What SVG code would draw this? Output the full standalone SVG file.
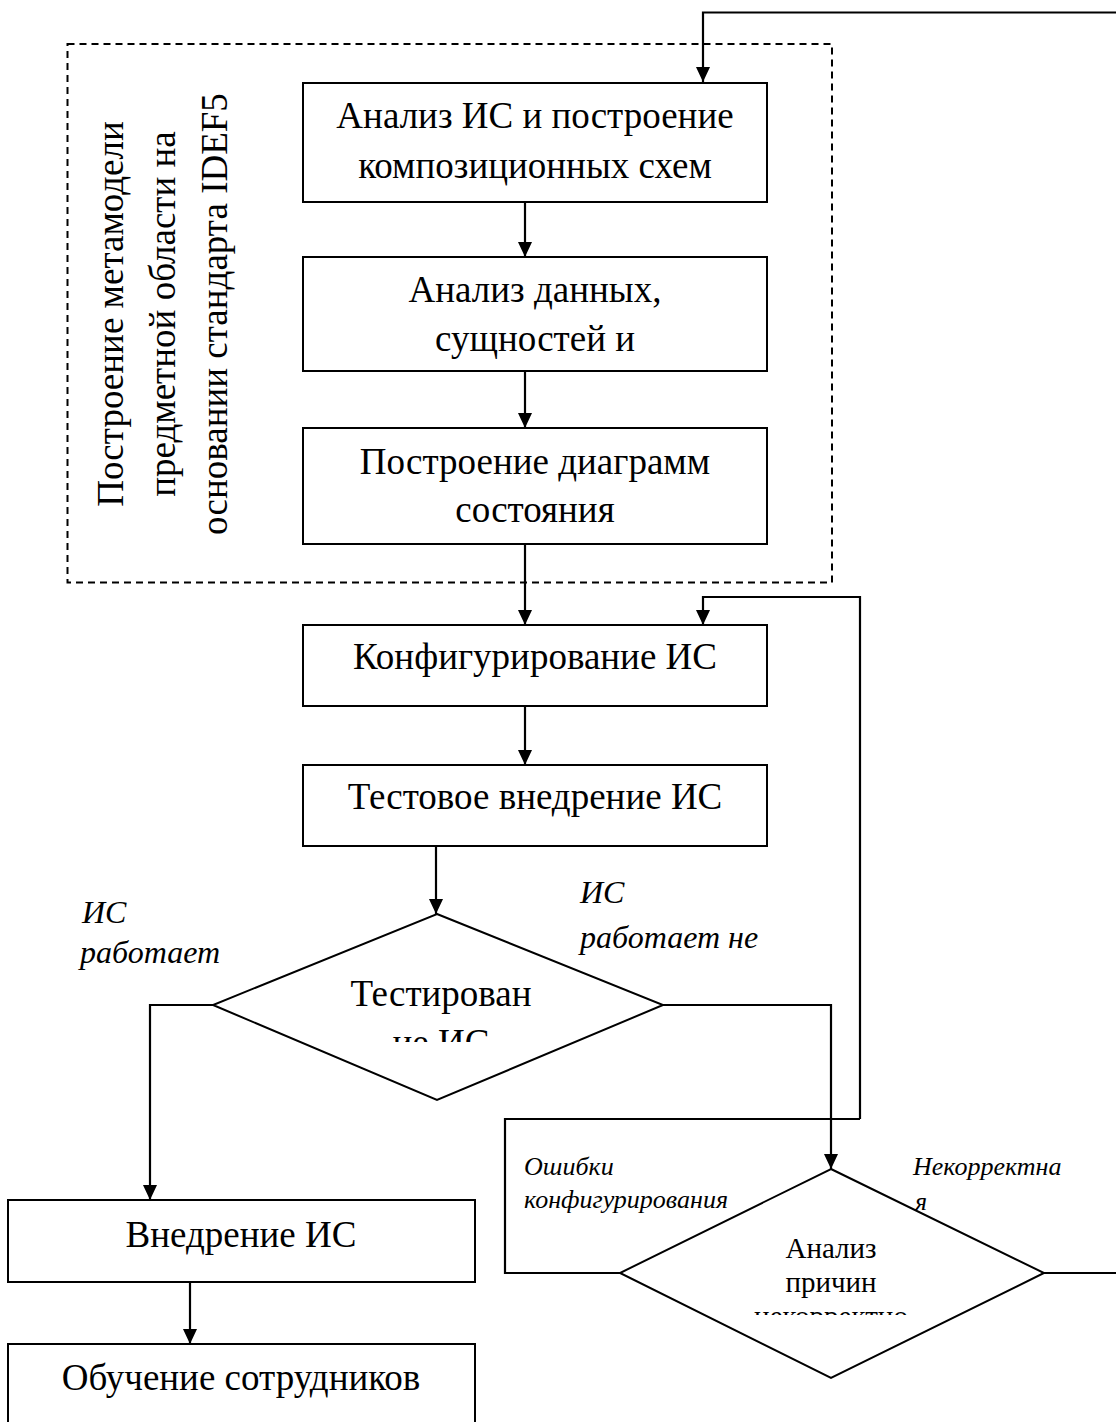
<svg xmlns="http://www.w3.org/2000/svg" width="1116" height="1422" viewBox="0 0 1116 1422">
<style>
.box{fill:#fff;stroke:#000;stroke-width:2}
.dia{fill:#fff;stroke:#000;stroke-width:2}
.con{fill:none;stroke:#000;stroke-width:2.2}
.t{font-family:"Liberation Serif","Times New Roman",serif;font-size:37px;fill:#000;text-anchor:middle}
.ts{font-family:"Liberation Serif","Times New Roman",serif;font-size:29px;fill:#000;text-anchor:middle}
.lab{font-family:"Liberation Serif","Times New Roman",serif;font-style:italic;font-size:32px;fill:#000}
.labs{font-family:"Liberation Serif","Times New Roman",serif;font-style:italic;font-size:26px;fill:#000}
</style>
<defs>
<marker id="ad" markerUnits="userSpaceOnUse" markerWidth="16" markerHeight="16" viewBox="0 0 16 16" refX="8" refY="15" orient="0">
<path d="M1,0 L15,0 L8,15 Z" fill="#000"/>
</marker>
<clipPath id="c1"><rect x="250" y="960" width="380" height="82"/></clipPath>
<clipPath id="c2"><rect x="700" y="1220" width="260" height="95"/></clipPath>
<clipPath id="c3"><rect x="900" y="1150" width="216" height="61"/></clipPath>
</defs>

<g id="group-idef5">
<rect x="67.5" y="44" width="764.5" height="538.5" fill="none" stroke="#000" stroke-width="2" stroke-dasharray="7,5"/>
<text class="t" transform="translate(123 314) rotate(-90)">Построение метамодели</text>
<text class="t" transform="translate(175 314) rotate(-90)">предметной области на</text>
<text class="t" transform="translate(227 314) rotate(-90)">основании стандарта IDEF5</text>
</g>

<g id="connectors">
<path class="con" d="M1116,12.5 H703 V82" marker-end="url(#ad)"/>
<path class="con" d="M525,202 V257" marker-end="url(#ad)"/>
<path class="con" d="M525,371 V428" marker-end="url(#ad)"/>
<path class="con" d="M525,544 V625" marker-end="url(#ad)"/>
<path class="con" d="M860,1119 V597 H703 V625" marker-end="url(#ad)"/>
<path class="con" d="M525,706 V765" marker-end="url(#ad)"/>
<path class="con" d="M436,846 V914" marker-end="url(#ad)"/>
<path class="con" d="M213,1005 H150 V1200" marker-end="url(#ad)"/>
<path class="con" d="M663,1005 H831 V1169" marker-end="url(#ad)"/>
<path class="con" d="M190,1282 V1344" marker-end="url(#ad)"/>
<path class="con" d="M860,1119 H505 V1273 H620"/>
<path class="con" d="M1044,1273 H1116"/>
</g>

<g id="node-analysis-is">
<rect class="box" x="303" y="83" width="464" height="119"/>
<text class="t" x="535" y="128">Анализ ИС и построение</text>
<text class="t" x="535" y="178">композиционных схем</text>
</g>

<g id="node-data-analysis">
<rect class="box" x="303" y="257" width="464" height="114"/>
<text class="t" x="535" y="302">Анализ данных,</text>
<text class="t" x="535" y="351">сущностей и</text>
</g>

<g id="node-state-diagrams">
<rect class="box" x="303" y="428" width="464" height="116"/>
<text class="t" x="535" y="474">Построение диаграмм</text>
<text class="t" x="535" y="522">состояния</text>
</g>

<g id="node-config">
<rect class="box" x="303" y="625" width="464" height="81"/>
<text class="t" x="535" y="669">Конфигурирование ИС</text>
</g>

<g id="node-test-deploy">
<rect class="box" x="303" y="765" width="464" height="81"/>
<text class="t" x="535" y="809">Тестовое внедрение ИС</text>
</g>

<g id="node-testing">
<polygon class="dia" points="437,914 663,1005 437,1100 213,1005"/>
<g clip-path="url(#c1)">
<text class="t" x="441" y="1006">Тестирован</text>
<text class="t" x="441" y="1055">ие ИС</text>
</g>
</g>

<g id="labels">
<text class="lab" x="82" y="923">ИС</text>
<text class="lab" x="80" y="963">работает</text>
<text class="lab" x="580" y="903">ИС</text>
<text class="lab" x="580" y="948">работает не</text>
<text class="labs" x="524" y="1175">Ошибки</text>
<text class="labs" x="524" y="1208">конфигурирования</text>
<text class="labs" x="913" y="1175">Некорректна</text>
<text class="labs" x="915" y="1210" clip-path="url(#c3)">я</text>
</g>

<g id="node-cause-analysis">
<polygon class="dia" points="831,1169 1044,1273 831,1378 620,1273"/>
<g clip-path="url(#c2)">
<text class="ts" x="831" y="1258">Анализ</text>
<text class="ts" x="831" y="1292">причин</text>
<text class="ts" x="831" y="1326">некорректно</text>
</g>
</g>

<g id="node-deploy">
<rect class="box" x="8" y="1200" width="467" height="82"/>
<text class="t" x="241" y="1247">Внедрение ИС</text>
</g>

<g id="node-training">
<rect class="box" x="8" y="1344" width="467" height="90"/>
<text class="t" x="241" y="1390">Обучение сотрудников</text>
</g>
</svg>
